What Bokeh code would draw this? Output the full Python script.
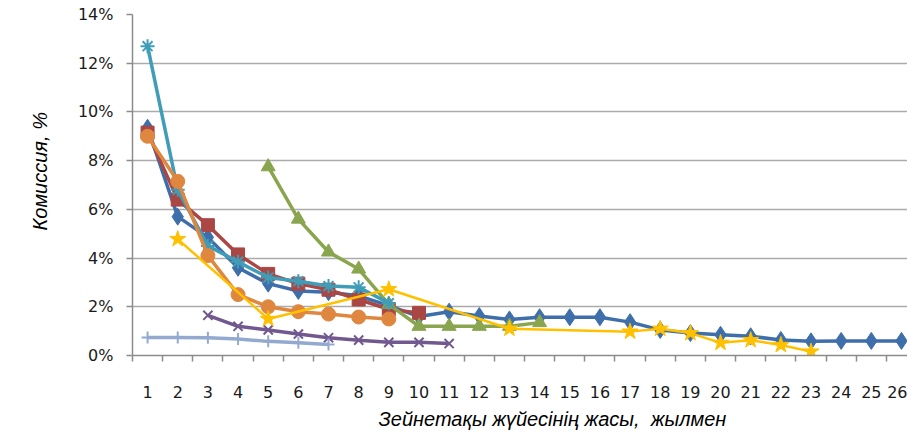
from bokeh.plotting import figure
from bokeh.models import Range1d, FixedTicker, NumeralTickFormatter, Title
from bokeh.embed import file_html
from bokeh.resources import INLINE

# ---- data (percent) ----
categories = list(range(1, 27))

blue_x = list(range(1, 27))
blue_y = [9.35, 5.7, 4.85, 3.6, 2.95, 2.65, 2.6, 2.45, 2.05, 1.6, 1.8, 1.62, 1.48, 1.57,
          1.57, 1.57, 1.37, 1.05, 0.92, 0.85, 0.79, 0.64, 0.58, 0.6, 0.6, 0.6]

red_x = list(range(1, 11))
red_y = [9.15, 6.4, 5.35, 4.15, 3.35, 2.95, 2.7, 2.3, 1.9, 1.75]

green_x = list(range(5, 15))
green_y = [7.75, 5.6, 4.25, 3.55, 2.1, 1.2, 1.2, 1.2, 1.2, 1.35]

teal_x = list(range(1, 10))
teal_y = [12.7, 6.8, 4.5, 3.85, 3.2, 3.05, 2.85, 2.8, 2.15]

purple_x = list(range(3, 12))
purple_y = [1.65, 1.2, 1.05, 0.88, 0.73, 0.63, 0.54, 0.54, 0.49]

orange_x = list(range(1, 10))
orange_y = [9.0, 7.15, 4.1, 2.5, 2.0, 1.8, 1.7, 1.58, 1.5]

lightblue_x = list(range(1, 8))
lightblue_y = [0.74, 0.74, 0.73, 0.68, 0.58, 0.52, 0.45]

gold_x = [2, 5, 9, 13, 17, 18, 19, 20, 21, 22, 23]
gold_y = [4.78, 1.5, 2.72, 1.1, 0.98, 1.1, 0.92, 0.52, 0.63, 0.43, 0.16]

y_ticks = [0, 2, 4, 6, 8, 10, 12, 14]

y_title = "Комиссия, %"
x_title = "Зейнетақы жүйесінің жасы,\u00a0 жылмен"

p = figure(width=907, height=435, output_backend="svg", toolbar_location=None,
           x_range=Range1d(0.5, 26.2), y_range=Range1d(0, 0.14),
           min_border_left=132, min_border_right=0, min_border_top=14,
           min_border_bottom=80)
p.outline_line_color = None
p.background_fill_color = "white"

# grid
p.xgrid.grid_line_color = None
p.ygrid.grid_line_color = "#ABABAB"
p.ygrid.grid_line_width = 1.5

# y axis
p.yaxis.ticker = FixedTicker(ticks=[t / 100 for t in y_ticks])
p.yaxis.formatter = NumeralTickFormatter(format="0%")
p.yaxis.axis_line_color = "#8C8C8C"
p.yaxis.axis_line_width = 1.5
p.yaxis.major_tick_line_color = "#8C8C8C"
p.yaxis.major_tick_line_width = 1.5
p.yaxis.major_tick_out = 6
p.yaxis.major_tick_in = 0
p.yaxis.minor_tick_line_color = None
p.yaxis.major_label_standoff = 13
p.yaxis.major_label_text_font = "DejaVu Sans"
p.yaxis.major_label_text_font_size = "16px"
p.yaxis.major_label_text_color = "#1a1a1a"

# x axis
p.xaxis.ticker = FixedTicker(ticks=categories, minor_ticks=[c + 0.5 for c in range(0, 27)])
p.xaxis.axis_line_color = "#8C8C8C"
p.xaxis.axis_line_width = 1.5
p.xaxis.major_tick_line_color = None
p.xaxis.major_tick_out = 0
p.xaxis.major_tick_in = 0
p.xaxis.minor_tick_line_color = "#8C8C8C"
p.xaxis.minor_tick_line_width = 1.5
p.xaxis.minor_tick_out = 6
p.xaxis.minor_tick_in = 0
p.xaxis.major_label_standoff = 24
p.xaxis.major_label_text_font = "DejaVu Sans"
p.xaxis.major_label_text_font_size = "16px"
p.xaxis.major_label_text_color = "#1a1a1a"


def pct(v):
    return [a / 100 for a in v]


series = [
    (blue_x, blue_y, "#3F6FAA", "diamond", 17, 3.5),
    (red_x, red_y, "#AA4643", "square", 13, 3.5),
    (green_x, green_y, "#89A54E", "triangle", 14, 3.5),
    (teal_x, teal_y, "#3F9DB8", "asterisk", 14, 3.5),
    (purple_x, purple_y, "#71588F", "x", 13, 3.5),
    (orange_x, orange_y, "#E0873F", "circle", 14, 3.5),
    (lightblue_x, lightblue_y, "#93A9CF", "cross", 12, 3.5),
    (gold_x, gold_y, "#FFC000", "star", 17, 2.5),
]

for xs, ys, col, mk, sz, lw in series:
    p.line(xs, pct(ys), line_color=col, line_width=lw)
    if mk in ("asterisk", "x", "cross"):
        p.scatter(xs, pct(ys), marker=mk, size=sz, line_color=col, line_width=2)
    else:
        p.scatter(xs, pct(ys), marker=mk, size=sz, fill_color=col, line_color=col)

# axis titles
p.add_layout(Title(text=y_title, align="left", offset=125, standoff=48,
                   text_font="Liberation Sans", text_font_style="italic",
                   text_font_size="20px", text_color="black"), "left")
p.add_layout(Title(text=x_title, align="left", offset=246, standoff=10,
                   text_font="Liberation Sans", text_font_style="italic",
                   text_font_size="20px", text_color="black"), "below")

open("out.html", "w").write(file_html(p, INLINE))
